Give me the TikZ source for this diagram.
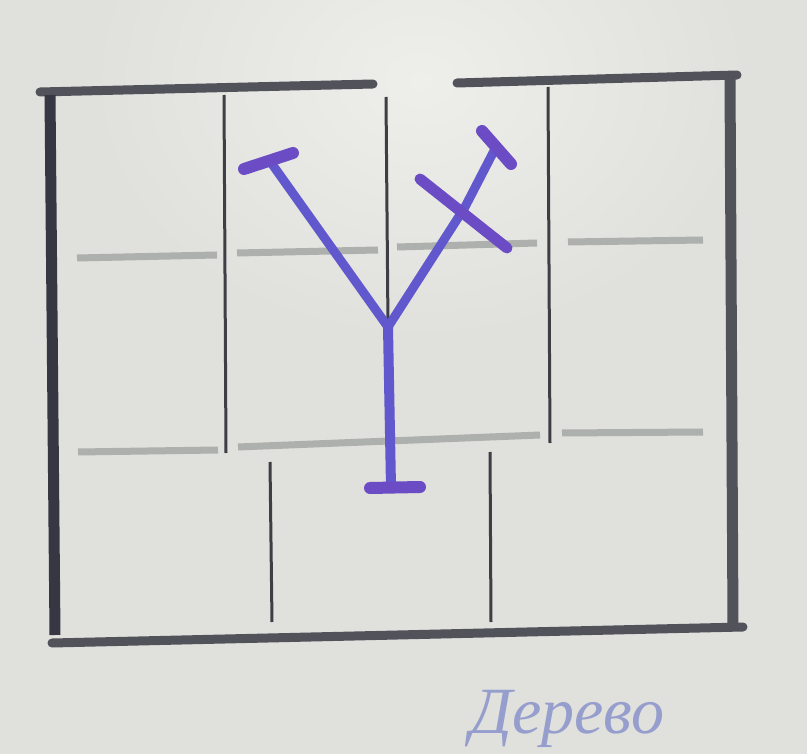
\documentclass[tikz,border=0pt]{standalone}
\usepackage{fontspec}
\newfontfamily\handfont{Liberation Serif}
\definecolor{paper}{RGB}{224,224,220}
\definecolor{paperlight}{RGB}{238,238,235}
\definecolor{framegray}{RGB}{82,82,90}
\definecolor{framedark}{RGB}{55,55,68}
\definecolor{thingray}{RGB}{62,62,68}
\definecolor{rulegray}{RGB}{174,176,174}
\definecolor{ink}{RGB}{98,88,205}
\definecolor{inkpurple}{RGB}{108,76,196}
\definecolor{fadedink}{RGB}{150,158,205}
\tikzset{
  frameline/.style={framegray,line width=9pt,line cap=round},
  sideline/.style={framedark,line width=11pt},
  wall/.style={thingray,line width=3pt},
  rule/.style={rulegray,line width=7pt},
  branch/.style={ink,line width=9pt,line cap=round},
  bar/.style={inkpurple,line width=12pt,line cap=round}
}
\begin{document}
\begin{tikzpicture}[x=1pt,y=-1pt]
\useasboundingbox (0,0) rectangle (807,754);
\clip (0,0) rectangle (807,754);
\fill[paper] (0,0) rectangle (807,754);
\shade[inner color=paperlight,outer color=paper] (420,80) ellipse (330 and 260);
% outer frame
\draw[frameline] (40,92) -- (373,84);
\draw[frameline] (457,83) -- (737,75);
\draw[sideline] (50,95) -- (55,635);
\draw[sideline,framegray] (730,78) -- (733,625);
\draw[frameline] (52,643) -- (743,627);
% interior walls
\draw[wall] (224,95) -- (226,453);
\draw[wall] (386,97) -- (388,327);
\draw[wall] (548,87) -- (550,443);
\draw[wall] (270,462) -- (272,622);
\draw[wall] (490,452) -- (491,622);
% grey rules
\draw[rule] (77,258) -- (217,255);
\draw[rule] (237,253) -- (378,250);
\draw[rule] (397,247) -- (537,243);
\draw[rule] (568,242) -- (703,240);
\draw[rule] (78,452) -- (218,450);
\draw[rule] (238,447) -- (540,435);
\draw[rule] (562,433) -- (703,432);
% Y figure
\coordinate (J) at (388,327);
\coordinate (L) at (272,164);
\coordinate (X) at (465,207);
\coordinate (R) at (496,147);
\coordinate (B) at (391,487);
\draw[branch] (J) -- (L);
\draw[branch] (J) -- (X) -- (R);
\draw[branch,line width=10pt] (J) -- (B);
\draw[bar] (244,169) -- (293,153);
\draw[bar] (482,131) -- (511,164);
\draw[bar] (370,488) -- (420,487);
\draw[bar,line width=11pt] (420,179) -- (507,248);
% handwriting
\node[fadedink,anchor=base west,inner sep=0pt] (word) at (470,733)
  {\handfont\itshape\fontsize{66}{66}\selectfont Дерево};
\end{tikzpicture}
\end{document}
